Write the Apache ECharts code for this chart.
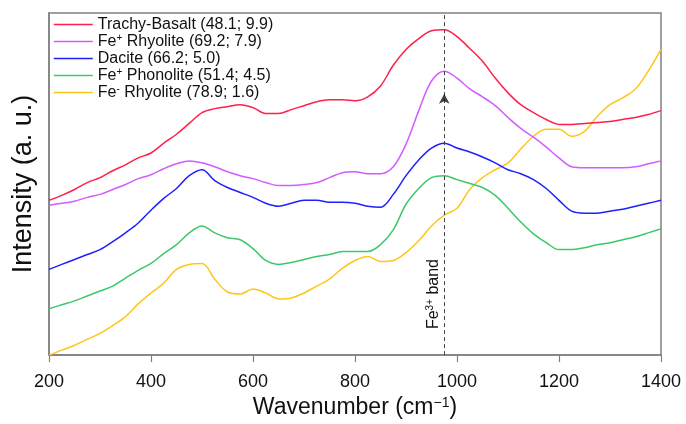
<!DOCTYPE html>
<html>
<head>
<meta charset="utf-8">
<script src="https://cdn.jsdelivr.net/npm/echarts@6/dist/echarts.min.js"></script>
<style>
  html, body { margin: 0; padding: 0; background: #fff; }
  #chart { width: 686px; height: 424px; }
</style>
</head>
<body>
<div id="chart"></div>
<script>
// wavenumber grid (cm-1) the spectra were read at
const wavenumber = [200, 225, 250, 275, 300, 325, 350, 375, 400, 425, 450, 475, 500, 525, 550, 575, 600,
  625, 650, 675, 700, 725, 750, 775, 800, 825, 850, 875, 900, 925, 950, 975, 1000, 1025, 1050, 1075, 1100,
  1125, 1150, 1175, 1200, 1225, 1250, 1275, 1300, 1325, 1350, 1375, 1400]

const seriesNames = ['Trachy-Basalt (48.1; 9.9)', 'Fe+ Rhyolite (69.2; 7.9)', 'Dacite (66.2; 5.0)',
  'Fe+ Phonolite (51.4; 4.5)', 'Fe- Rhyolite (78.9; 1.6)']
const seriesColors = ['#ff1f4b', '#d35cff', '#1f1fff', '#3cc86a', '#ffc61a']

// intensities (a. u., stacked offsets as in the figure)
const trachyBasalt = [157, 162, 168, 175, 180, 187, 193, 200, 205, 215, 224, 235, 246, 250, 252, 254, 251,
  245, 245, 249, 253, 257, 259, 259, 258, 262, 273, 294, 310, 321, 329, 330, 323, 311, 298, 281, 266,
  254, 246, 239, 234, 234, 235, 236, 237, 239, 241, 244, 248]
const feRhyolitePlus = [152, 154, 156, 160, 163, 168, 173, 179, 183, 189, 194, 197, 195, 191, 186, 182, 179,
  175, 172, 172, 173, 175, 180, 185, 186, 184, 184, 191, 214, 248, 278, 288, 281, 270, 262, 253, 241,
  230, 221, 211, 200, 191, 190, 190, 190, 190, 191, 194, 197]
const dacite = [87, 92, 97, 102, 107, 115, 124, 134, 147, 159, 169, 182, 188, 177, 170, 165, 160,
  154, 151, 154, 157, 157, 155, 155, 154, 151, 150, 163, 182, 198, 210, 215, 210, 206, 201, 195, 188,
  184, 178, 169, 157, 146, 144, 144, 146, 148, 151, 154, 157]
const fePhonolite = [47, 51, 55, 60, 65, 70, 78, 86, 93, 103, 112, 124, 131, 124, 119, 117, 108,
  96, 92, 94, 97, 100, 102, 105, 105, 105, 112, 127, 153, 169, 180, 182, 178, 174, 170, 162, 149,
  135, 123, 114, 107, 107, 109, 112, 114, 117, 120, 124, 128]
const feRhyoliteMinus = [0, 5, 10, 16, 22, 30, 39, 52, 63, 73, 87, 92, 93, 77, 64, 62, 67,
  63, 57, 58, 63, 70, 77, 88, 96, 100, 95, 96, 104, 116, 131, 142, 149, 168, 180, 188, 195,
  209, 222, 229, 229, 222, 227, 242, 254, 261, 270, 288, 310]

const fe3Band = 975
const arrowPoint = [975, 265]

const allSpectra = [trachyBasalt, feRhyolitePlus, dacite, fePhonolite, feRhyoliteMinus]

const supFmt = s => s.replace(/^Fe\+/, 'Fe{sup|+}').replace(/^Fe-/, 'Fe{sup|-}')

const series = allSpectra.map((vals, i) => ({
  name: seriesNames[i],
  type: 'line',
  data: vals.map((v, j) => [wavenumber[j], v]),
  smooth: 0.35,
  symbol: 'none',
  lineStyle: { width: 1.5, color: seriesColors[i] },
  itemStyle: { color: seriesColors[i] },
  z: 5 - i
}))

// Fe3+ band marker
series[0].markLine = {
  silent: true,
  symbol: 'none',
  animation: false,
  lineStyle: { color: '#444', type: [4, 3], width: 1 },
  label: {
    show: true,
    position: 'insideStartTop',
    distance: [26, 3],
    formatter: 'Fe{sup|3+} band',
    color: '#111',
    fontSize: 16,
    fontFamily: 'Liberation Sans, Arial, sans-serif',
    rich: { sup: { fontSize: 10, verticalAlign: 'top', lineHeight: 10 } }
  },
  data: [{ xAxis: fe3Band }]
}
series.push({
  type: 'scatter',
  data: [arrowPoint],
  symbol: 'arrow',
  symbolSize: [8, 10],
  itemStyle: { color: '#111' },
  silent: true,
  z: 10
})

const chart = echarts.init(document.getElementById('chart'), null, { renderer: 'canvas' })
chart.setOption({
  animation: false,
  textStyle: { fontFamily: 'Liberation Sans, Arial, sans-serif' },
  grid: {
    show: true, left: 49, right: 25, top: 13, bottom: 64,
    borderColor: '#808080', borderWidth: 1.5, backgroundColor: 'transparent'
  },
  legend: {
    data: seriesNames,
    orient: 'vertical',
    left: 53, top: 16,
    padding: 0,
    itemWidth: 39, itemHeight: 17, itemGap: 0,
    itemStyle: { opacity: 0 },
    lineStyle: { width: 1.5 },
    formatter: supFmt,
    textStyle: {
      fontSize: 16, lineHeight: 17, color: '#111',
      rich: { sup: { fontSize: 10, lineHeight: 10, verticalAlign: 'top' } }
    }
  },
  xAxis: {
    type: 'value', min: 200, max: 1400, interval: 200,
    name: 'Wavenumber (cm{sup|\u22121})',
    nameLocation: 'middle', nameGap: 40,
    nameTextStyle: {
      fontSize: 23, color: '#111',
      rich: { sup: { fontSize: 14, lineHeight: 14, verticalAlign: 'top' } }
    },
    axisLine: { lineStyle: { color: '#808080', width: 1.5 } },
    axisTick: { length: 7, lineStyle: { color: '#808080', width: 1.2 } },
    axisLabel: { fontSize: 18, color: '#111', margin: 18, formatter: v => String(v) },
    splitLine: { show: false }
  },
  yAxis: {
    type: 'value', min: 0, max: 347,
    name: 'Intensity (a. u.)',
    nameLocation: 'middle', nameGap: 12,
    nameTextStyle: { fontSize: 27, color: '#111' },
    axisLine: { show: true, lineStyle: { color: '#808080', width: 1.5 } },
    axisTick: { show: false },
    axisLabel: { show: false },
    splitLine: { show: false }
  },
  series
})
</script>
</body>
</html>
